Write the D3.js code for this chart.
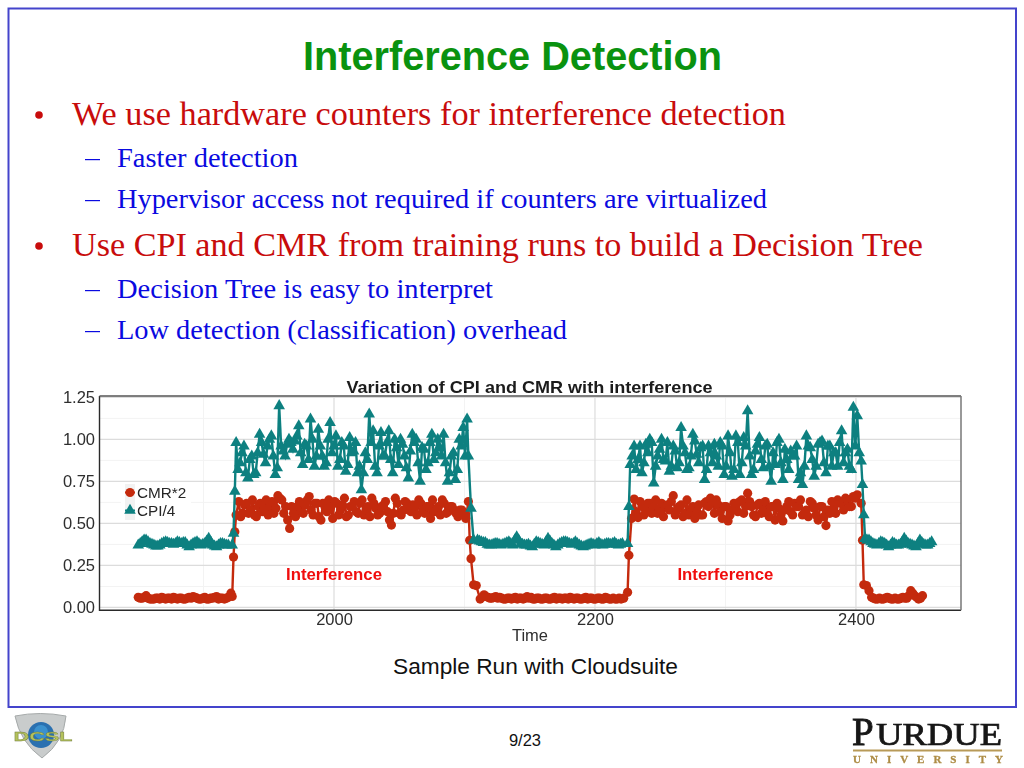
<!DOCTYPE html>
<html><head><meta charset="utf-8">
<script src="https://cdn.jsdelivr.net/npm/d3@7/dist/d3.min.js"></script>
<style>
html,body{margin:0;padding:0;background:#fff;width:1024px;height:768px;overflow:hidden}
svg{display:block}
text{white-space:pre}
</style></head><body>
<svg id="s" width="1024" height="768"></svg>
<script>
// ---- chart data ----
const xTicks=[2000,2200,2400];
const xMinor=[1900,2100,2300];
const yTicks=[0,0.25,0.5,0.75,1,1.25];
const yMinor=[0.125,0.375,0.625,0.875,1.125];

const step=3;
const cmrLow1Start=1850;
const cmrLow1=[.06,.055,.07,.05,.05,.055,.06,.05,.055,.06,.05,.055,.05,.06,.065,.055,.05,.06,.05,.055,.065,.055,.05,.06];
const cmrLow1bStart=1851.5;
const cmrLow1b=[.055,.06,.055,.05,.055,.05,.055,.055,.05,.055,.055,.05,.055,.055,.06,.05,.055,.05,.055,.06,.05,.055,.055];
const cmrRise1Times=[1921,1922,1923,1924,1925];
const cmrRise1=[.085,.065,.30,.45,.55];
const cmrHigh1Start=1927;
const cmrHigh1=[.63,.56,.62,.58,.55,.60,.57,.64,.60,.56,.665,.64,.60,.47,.56,.60,.57,.61,.66,.55,.62,.52,.60,.64,.53,.62,.58,.65,.55,.60,.57,.62,.55,.60,.65,.59,.56,.61,.57,.49,.65,.56,.58,.62,.57,.60,.64,.58,.60,.53,.57,.60,.64,.56,.60,.58,.54,.58,.53];
const cmrHigh1bStart=1928.5;
const cmrHigh1b=[.54,.61,.56,.64,.54,.62,.59,.55,.63,.59,.65,.56,.52,.60,.54,.63,.56,.64,.58,.62,.54,.62,.57,.60,.63,.55,.61,.54,.60,.63,.56,.64,.58,.54,.62,.55,.60,.63,.52,.56,.62,.55,.63,.58,.61,.55,.62,.56,.60,.64,.58,.55,.62,.57,.60,.56,.58,.55];
const cmrFall1Times=[2103,2104,2105,2107,2109];
const cmrFall1=[.63,.40,.29,.135,.13];
const cmrLow2Start=2112;
const cmrLow2=[.05,.075,.06,.055,.065,.06,.05,.055,.05,.06,.055,.05,.065,.06,.05,.055,.05,.055,.05,.06,.055,.05,.055,.06,.05,.055,.05,.06,.055,.05,.055,.05,.06,.05,.055,.05,.05];
const cmrLow2bStart=2113.5;
const cmrLow2b=[.06,.065,.055,.06,.055,.055,.05,.055,.055,.05,.055,.055,.055,.05,.055,.05,.055,.05,.055,.05,.055,.055,.05,.055,.055,.05,.055,.05,.055,.05,.055,.05,.055,.05,.05,.055];
const cmrRise2Times=[2222,2225,2226,2228];
const cmrRise2=[.055,.09,.31,.53];
const cmrHigh2Start=2230;
const cmrHigh2=[.645,.535,.60,.58,.62,.60,.56,.62,.60,.58,.665,.58,.61,.56,.55,.60,.57,.55,.62,.60,.63,.64,.57,.60,.515,.58,.60,.63,.56,.68,.60,.54,.62,.58,.56,.60,.52,.59,.515,.60,.57,.62,.60,.55,.58,.63,.59,.52,.60,.487,.56,.59,.64,.62,.65,.60,.66,.67];
const cmrHigh2bStart=2231.5;
const cmrHigh2b=[.57,.63,.55,.62,.56,.64,.58,.54,.61,.63,.55,.60,.54,.64,.57,.53,.61,.55,.63,.65,.56,.61,.53,.60,.55,.62,.57,.64,.60,.63,.55,.61,.56,.63,.54,.60,.62,.55,.58,.63,.55,.60,.64,.56,.54,.62,.55,.60,.54,.58,.63,.56,.62,.58,.64,.60,.65];
const cmrFall2Times=[2404,2405,2406,2408,2410];
const cmrFall2=[.62,.40,.135,.13,.10];
const cmrLow3Start=2412;
const cmrLow3=[.06,.05,.055,.05,.06,.05,.055,.05,.06,.055,.10,.07,.05,.07];
const cmrLow3bStart=2413.5;
const cmrLow3b=[.055,.05,.05,.055,.055,.05,.05,.055,.055,.07,.085,.06,.055];

const cpiLow1Start=1850;
const cpiLow1=[.37,.39,.40,.38,.37,.365,.38,.39,.38,.375,.39,.38,.385,.36,.38,.39,.37,.38,.41,.37,.36,.38,.375,.37];
const cpiLow1bStart=1851.5;
const cpiLow1b=[.38,.40,.39,.375,.365,.37,.385,.385,.38,.38,.385,.385,.37,.37,.385,.38,.375,.395,.39,.365,.37,.38,.37];
const cpiRise1Times=[1922,1923,1924];
const cpiRise1=[.37,.44,.69];
const cpiHigh1Start=1925;
const cpiHigh1=[.98,.86,.96,.77,.90,.80,1.03,.91,.96,1.02,.79,1.20,.93,.97,.98,.99,1.08,.85,.96,1.12,.84,1.06,.90,.86,1.10,.96,.84,.98,.81,1.01,.93,.80,.70,.92,1.15,1.05,.80,1.04,.90,1.05,.80,.95,1.0,.90,.77,1.03,1.0,.75,.94,.86,1.03,.92,.95,1.03,.75,.90,.76,1.0,1.07,1.12];
const cpiHigh1bStart=1926.5;
const cpiHigh1b=[.82,.92,.80,.88,.79,.92,.98,.86,1.0,.90,.83,.96,.90,1.0,.94,1.02,.92,.97,.88,1.0,.90,.96,.84,1.0,.92,1.02,.88,.96,.85,.92,.98,.84,.80,.88,.98,.84,.96,.90,.98,.88,1.0,.85,.97,.83,.93,.98,.86,.95,.82,.98,.88,1.0,.90,.86,.80,.92,.82,.96,.90];
const cpiFall1Times=[2103,2105,2107];
const cpiFall1=[.90,.59,.40];
const cpiLow2Start=2110;
const cpiLow2=[.40,.39,.385,.37,.375,.38,.37,.38,.39,.37,.42,.38,.37,.375,.36,.39,.38,.37,.41,.38,.36,.38,.39,.385,.375,.39,.37,.36,.37,.38,.37,.385,.37,.38,.375,.385,.37,.38];
const cpiLow2bStart=2111.5;
const cpiLow2b=[.395,.385,.375,.37,.38,.375,.375,.385,.38,.40,.40,.375,.37,.365,.375,.385,.375,.39,.395,.37,.37,.385,.39,.38,.38,.38,.365,.365,.375,.375,.38,.375,.375,.38,.38,.375,.375];
const cpiRise2Times=[2225,2226];
const cpiRise2=[.38,.60];
const cpiHigh2Start=2227;
const cpiHigh2=[.85,.96,.88,.80,.97,1.0,.74,.90,1.0,.87,.81,.96,.83,1.07,.92,.83,1.03,.91,.95,.76,.96,.86,.90,.98,.79,1.02,.78,1.02,.79,1.01,1.17,.79,.93,1.01,.83,.97,.75,.85,1.0,.76,.88,.93,.90,.76,.73,1.02,.95,.78,.97,.99,.80,.96,.92,.84,1.05,.92,.84,1.19,1.14,.87];
const cpiHigh2bStart=2228.5;
const cpiHigh2b=[.90,.82,.96,.86,.92,.98,.84,.94,.88,.98,.84,.93,.86,.96,.82,.90,.99,.86,.96,.82,.92,.97,.84,.96,.84,.92,.82,.98,.86,.96,.90,.82,.97,.88,.96,.84,.92,.98,.86,.94,.82,.90,.96,.80,.84,.96,.88,.84,.98,.86,.96,.84,.92,.98,.86,.94,.82,.96,.92];
const cpiFall2Times=[2405,2406];
const cpiFall2=[.73,.55];
const cpiLow3Start=2407;
const cpiLow3=[.41,.40,.38,.37,.39,.38,.36,.385,.37,.375,.41,.38,.37,.36,.40,.375,.37,.39];
const cpiLow3bStart=2408.5;
const cpiLow3b=[.40,.39,.375,.38,.385,.37,.37,.38,.37,.39,.395,.375,.365,.38,.385,.37,.38];

const seq=(start,vals)=>vals.map((v,i)=>({t:start+step*i,v}));
const pair=(ts,vals)=>vals.map((v,i)=>({t:ts[i],v}));
const byT=(a,b)=>d3.ascending(a.t,b.t);
const cmrSeries=[...seq(cmrLow1Start,cmrLow1),...seq(cmrLow1bStart,cmrLow1b),...pair(cmrRise1Times,cmrRise1),...seq(cmrHigh1Start,cmrHigh1),...seq(cmrHigh1bStart,cmrHigh1b),...pair(cmrFall1Times,cmrFall1),...seq(cmrLow2Start,cmrLow2),...seq(cmrLow2bStart,cmrLow2b),...pair(cmrRise2Times,cmrRise2),...seq(cmrHigh2Start,cmrHigh2),...seq(cmrHigh2bStart,cmrHigh2b),...pair(cmrFall2Times,cmrFall2),...seq(cmrLow3Start,cmrLow3),...seq(cmrLow3bStart,cmrLow3b)].sort(byT);
const cpiSeries=[...seq(cpiLow1Start,cpiLow1),...seq(cpiLow1bStart,cpiLow1b),...pair(cpiRise1Times,cpiRise1),...seq(cpiHigh1Start,cpiHigh1),...seq(cpiHigh1bStart,cpiHigh1b),...pair(cpiFall1Times,cpiFall1),...seq(cpiLow2Start,cpiLow2),...seq(cpiLow2bStart,cpiLow2b),...pair(cpiRise2Times,cpiRise2),...seq(cpiHigh2Start,cpiHigh2),...seq(cpiHigh2bStart,cpiHigh2b),...pair(cpiFall2Times,cpiFall2),...seq(cpiLow3Start,cpiLow3),...seq(cpiLow3bStart,cpiLow3b)].sort(byT);

const slideTitle="Interference Detection";
const chartTitle="Variation of CPI and CMR with interference";
const legendLabels=["CMR*2","CPI/4"];
const annotations=[{t:2000,v:0.2,s:"Interference"},{t:2300,v:0.2,s:"Interference"}];
const bullets=[
 {s:"We use hardware counters for interference detection",lvl:1,y:125,w:714},
 {s:"Faster detection",lvl:2,y:167,w:181},
 {s:"Hypervisor access not required if counters are virtualized",lvl:2,y:208,w:650},
 {s:"Use CPI and CMR from training runs to build a Decision Tree",lvl:1,y:256,w:851},
 {s:"Decision Tree is easy to interpret",lvl:2,y:298,w:376},
 {s:"Low detection (classification) overhead",lvl:2,y:339,w:450}
];

// ---- drawing ----
const RED="#c42a0e",TEAL="#0c8080";
const svg=d3.select("#s");
const sans="'Liberation Sans',Arial,sans-serif", serif="'Liberation Serif','Times New Roman',serif";
const defs=svg.append("defs");
defs.append("filter").attr("id","soft").attr("x","-2%").attr("y","-2%").attr("width","104%").attr("height","104%")
  .append("feGaussianBlur").attr("stdDeviation",0.45);
defs.append("filter").attr("id","soft2").attr("x","-5%").attr("y","-5%").attr("width","110%").attr("height","110%")
  .append("feGaussianBlur").attr("stdDeviation",0.6);

svg.append("rect").attr("x",8.5).attr("y",8.5).attr("width",1007.5).attr("height",698.5)
  .attr("fill","none").attr("stroke","#4444cc").attr("stroke-width",2);

svg.append("text").attr("x",512.5).attr("y",70).attr("text-anchor","middle")
  .attr("font-family",sans).attr("font-weight","bold").attr("font-size",40).attr("fill","#0a920f")
  .attr("textLength",419).attr("lengthAdjust","spacingAndGlyphs").text(slideTitle);

bullets.forEach(b=>{
  const c=b.lvl===1?"#c80c0c":"#0a0ae0";
  const bx=b.lvl===1?72:117;
  svg.append("text").attr("x",bx).attr("y",b.y).attr("font-family",serif)
    .attr("font-size",b.lvl===1?34:28).attr("fill",c)
    .attr("textLength",b.w).attr("lengthAdjust","spacingAndGlyphs").text(b.s);
  if(b.lvl===1) svg.append("circle").attr("cx",39).attr("cy",b.y-10).attr("r",3.8).attr("fill",c);
  else svg.append("rect").attr("x",85).attr("y",b.y-8).attr("width",15).attr("height",1.2).attr("fill",c);
});

// chart
const pLeft=99.5,pRight=961,pTop=396,pBottom=610.3;
const x=d3.scaleLinear().domain([1820.3,2480.5]).range([pLeft,pRight]);
const y=d3.scaleLinear().domain([-0.017,1.2583]).range([pBottom,pTop]);
const g=svg.append("g").attr("filter","url(#soft)");

g.selectAll(".gmy").data(yMinor).join("line").attr("x1",pLeft).attr("x2",pRight).attr("y1",d=>y(d)).attr("y2",d=>y(d)).attr("stroke","#f3f3f3").attr("stroke-width",1);
g.selectAll(".gmx").data(xMinor).join("line").attr("y1",pTop).attr("y2",pBottom).attr("x1",d=>x(d)).attr("x2",d=>x(d)).attr("stroke","#f3f3f3").attr("stroke-width",1);
g.selectAll(".gy").data(yTicks).join("line").attr("x1",pLeft).attr("x2",pRight).attr("y1",d=>y(d)).attr("y2",d=>y(d)).attr("stroke","#dcdcdc").attr("stroke-width",1.2);
g.selectAll(".gx").data(xTicks).join("line").attr("y1",pTop).attr("y2",pBottom).attr("x1",d=>x(d)).attr("x2",d=>x(d)).attr("stroke","#dcdcdc").attr("stroke-width",1.2);

const line=d3.line().x(d=>x(d.t)).y(d=>y(d.v));
g.append("path").datum(cmrSeries).attr("d",line).attr("fill","none").attr("stroke",RED).attr("stroke-width",2.4);
g.selectAll(".cmr").data(cmrSeries).join("circle").attr("cx",d=>x(d.t)).attr("cy",d=>y(d.v)).attr("r",4.6).attr("fill",RED);
g.append("path").datum(cpiSeries).attr("d",line).attr("fill","none").attr("stroke",TEAL).attr("stroke-width",2.4);
const tri=d3.symbol().type(d3.symbolTriangle).size(58);
g.selectAll(".cpi").data(cpiSeries).join("path").attr("d",tri).attr("fill",TEAL).attr("transform",d=>`translate(${x(d.t)},${y(d.v)})`);

// panel border
g.append("path").attr("d",`M${pLeft},${pTop}V${pBottom}H${pRight}`).attr("fill","none").attr("stroke","#2a2a2a").attr("stroke-width",1.4);
g.append("path").attr("d",`M${pLeft},${pTop}H${pRight}`).attr("fill","none").attr("stroke","#555").attr("stroke-width",1.3);
g.append("path").attr("d",`M${pRight},${pTop}V${pBottom}`).attr("fill","none").attr("stroke","#777").attr("stroke-width",1.5);

// annotations
annotations.forEach(a=>{
  g.append("text").attr("x",x(a.t)).attr("y",y(a.v)+6.5).attr("text-anchor","middle").attr("font-family",sans).attr("font-size",17)
   .attr("font-weight","bold").attr("fill","#f00d0d").attr("textLength",96).attr("lengthAdjust","spacingAndGlyphs").text(a.s);
});

// legend
g.append("rect").attr("x",121).attr("y",483).attr("width",70).attr("height",38).attr("fill","#fff");
g.append("rect").attr("x",125).attr("y",484).attr("width",10).attr("height",36).attr("fill","#f2f2f2");
const lg=[{c:RED,y:492.5},{c:TEAL,y:510.5}];
lg.forEach((l,i)=>{
  g.append("line").attr("x1",125).attr("x2",135).attr("y1",l.y).attr("y2",l.y).attr("stroke",l.c).attr("stroke-width",2);
  if(i===0) g.append("circle").attr("cx",130).attr("cy",l.y).attr("r",4.6).attr("fill",l.c);
  else g.append("path").attr("d",tri).attr("fill",l.c).attr("transform",`translate(130,${l.y})`);
  g.append("text").attr("x",137).attr("y",l.y+5.5).attr("font-family",sans).attr("font-size",15.3).attr("fill","#262626").text(legendLabels[i]);
});

// axes
const tx=d3.axisBottom(x).tickValues(xTicks).tickSize(0).tickPadding(0).tickFormat(d3.format("d"));
const ty=d3.axisLeft(y).tickValues(yTicks).tickSize(0).tickPadding(4.5).tickFormat(d3.format(".2f"));
const ax=g.append("g").attr("transform",`translate(0,${pBottom+3})`).call(tx);
const ay=g.append("g").attr("transform",`translate(${pLeft},0)`).call(ty);
[ax,ay].forEach(a=>{a.select(".domain").remove();a.selectAll("text").attr("font-family",sans).attr("font-size",16.5).attr("fill","#2e2e2e");});

g.append("text").attr("x",530).attr("y",641).attr("text-anchor","middle").attr("font-family",sans).attr("font-size",16.5).attr("fill","#2e2e2e").text("Time");
g.append("text").attr("x",529.5).attr("y",392.5).attr("text-anchor","middle").attr("font-family",sans).attr("font-weight","bold").attr("font-size",16.5).attr("fill","#1a1a1a")
  .attr("textLength",366).attr("lengthAdjust","spacingAndGlyphs").text(chartTitle);

svg.append("text").attr("x",535.5).attr("y",674).attr("text-anchor","middle").attr("font-family",sans).attr("font-size",22).attr("fill","#111")
  .attr("textLength",285).attr("lengthAdjust","spacingAndGlyphs").text("Sample Run with Cloudsuite");
svg.append("text").attr("x",525).attr("y",746).attr("text-anchor","middle").attr("font-family",sans).attr("font-size",16.5).attr("fill","#111").text("9/23");

// DCSL logo
const lo=svg.append("g").attr("filter","url(#soft2)");
lo.append("path").attr("d","M15,716 Q40,711 66,716 Q64,742 42,758 Q20,742 15,716Z").attr("fill","#c9cccc").attr("stroke","#a5a9a9");
lo.append("circle").attr("cx",41).attr("cy",735).attr("r",13).attr("fill","#2a6fb0");
lo.append("circle").attr("cx",41).attr("cy",732).attr("r",7).attr("fill","#3f9ad6").attr("opacity",.8);
lo.append("text").attr("x",43).attr("y",740.5).attr("text-anchor","middle").attr("font-family",sans).attr("font-weight","bold").attr("font-size",13).attr("fill","#b4c25c").attr("stroke","#6f7a38").attr("stroke-width",.3)
  .attr("textLength",59).attr("lengthAdjust","spacingAndGlyphs").text("DCSL");

// Purdue logo
const pu=svg.append("g").attr("filter","url(#soft)");
pu.append("text").attr("x",852).attr("y",744.5).attr("font-family",serif).attr("font-size",39).attr("fill","#161616").attr("stroke","#161616").attr("stroke-width",.9).text("P");
pu.append("text").attr("x",876).attr("y",744.5).attr("font-family",serif).attr("font-size",31).attr("fill","#161616").attr("stroke","#161616").attr("stroke-width",.7)
  .attr("textLength",126).attr("lengthAdjust","spacingAndGlyphs").text("URDUE");
pu.append("rect").attr("x",853).attr("y",749.5).attr("width",149).attr("height",2).attr("fill","#b89a58");
pu.append("text").attr("x",853).attr("y",763).attr("font-family",serif).attr("font-weight","bold").attr("font-size",11).attr("fill","#ad8c45").attr("stroke","#ad8c45").attr("stroke-width",.3)
  .attr("textLength",150).attr("lengthAdjust","spacing").text("UNIVERSITY");
</script>
</body></html>
